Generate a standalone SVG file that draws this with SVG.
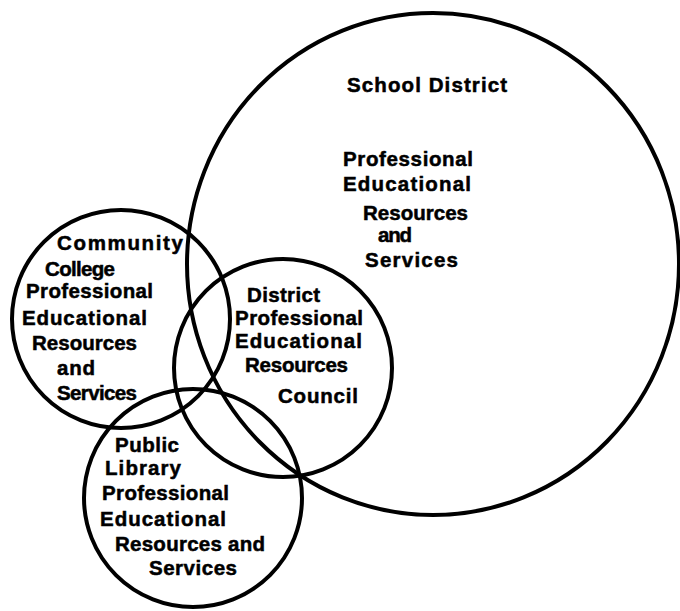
<svg xmlns="http://www.w3.org/2000/svg" width="680" height="611" viewBox="0 0 680 611">
  <style>
    .ring { fill: none; stroke: #000; stroke-width: 4; }
    .lbl { font-family: "Liberation Sans", Arial, sans-serif; font-weight: bold; font-size: 20.5px; fill: #000; stroke: #000; stroke-width: 0.5; }
  </style>
  <rect width="680" height="611" fill="#fff"/>

  <!-- School District -->
  <g id="school-district">
    <ellipse class="ring" cx="433" cy="264" rx="246" ry="251"/>
    <text class="lbl" x="347" y="92" textLength="160" lengthAdjust="spacing">School District</text>
    <text class="lbl" x="343" y="166" textLength="130" lengthAdjust="spacing">Professional</text>
    <text class="lbl" x="343" y="191" textLength="128" lengthAdjust="spacing">Educational</text>
    <text class="lbl" x="363" y="220" textLength="105" lengthAdjust="spacing">Resources</text>
    <text class="lbl" x="378" y="242" textLength="34" lengthAdjust="spacing">and</text>
    <text class="lbl" x="365" y="267" textLength="93" lengthAdjust="spacing">Services</text>
  </g>

  <!-- Community College -->
  <g id="community-college">
    <circle class="ring" cx="121" cy="319" r="109"/>
    <text class="lbl" x="57" y="250" textLength="126" lengthAdjust="spacing">Community</text>
    <text class="lbl" x="45" y="276" textLength="70" lengthAdjust="spacing">College</text>
    <text class="lbl" x="26" y="298" textLength="127" lengthAdjust="spacing">Professional</text>
    <text class="lbl" x="22" y="325" textLength="125" lengthAdjust="spacing">Educational</text>
    <text class="lbl" x="32" y="350" textLength="105" lengthAdjust="spacing">Resources</text>
    <text class="lbl" x="57" y="375" textLength="38" lengthAdjust="spacing">and</text>
    <text class="lbl" x="57" y="400" textLength="80" lengthAdjust="spacing">Services</text>
  </g>

  <!-- District Professional Educational Resources Council -->
  <g id="district-council">
    <circle class="ring" cx="283" cy="368" r="109"/>
    <text class="lbl" x="247" y="302" textLength="73" lengthAdjust="spacing">District</text>
    <text class="lbl" x="235" y="325" textLength="128" lengthAdjust="spacing">Professional</text>
    <text class="lbl" x="235" y="348" textLength="127" lengthAdjust="spacing">Educational</text>
    <text class="lbl" x="245" y="372" textLength="103" lengthAdjust="spacing">Resources</text>
    <text class="lbl" x="278" y="403" textLength="80" lengthAdjust="spacing">Council</text>
  </g>

  <!-- Public Library -->
  <g id="public-library">
    <circle class="ring" cx="193" cy="498" r="109"/>
    <text class="lbl" x="115" y="452" textLength="64" lengthAdjust="spacing">Public</text>
    <text class="lbl" x="105" y="475" textLength="76" lengthAdjust="spacing">Library</text>
    <text class="lbl" x="102" y="500" textLength="127" lengthAdjust="spacing">Professional</text>
    <text class="lbl" x="100" y="526" textLength="126" lengthAdjust="spacing">Educational</text>
    <text class="lbl" x="115" y="551" textLength="150" lengthAdjust="spacing">Resources and</text>
    <text class="lbl" x="149" y="575" textLength="88" lengthAdjust="spacing">Services</text>
  </g>

  <!-- no connectors: the relations are shown by overlap -->
  <g id="connectors"/>
</svg>
